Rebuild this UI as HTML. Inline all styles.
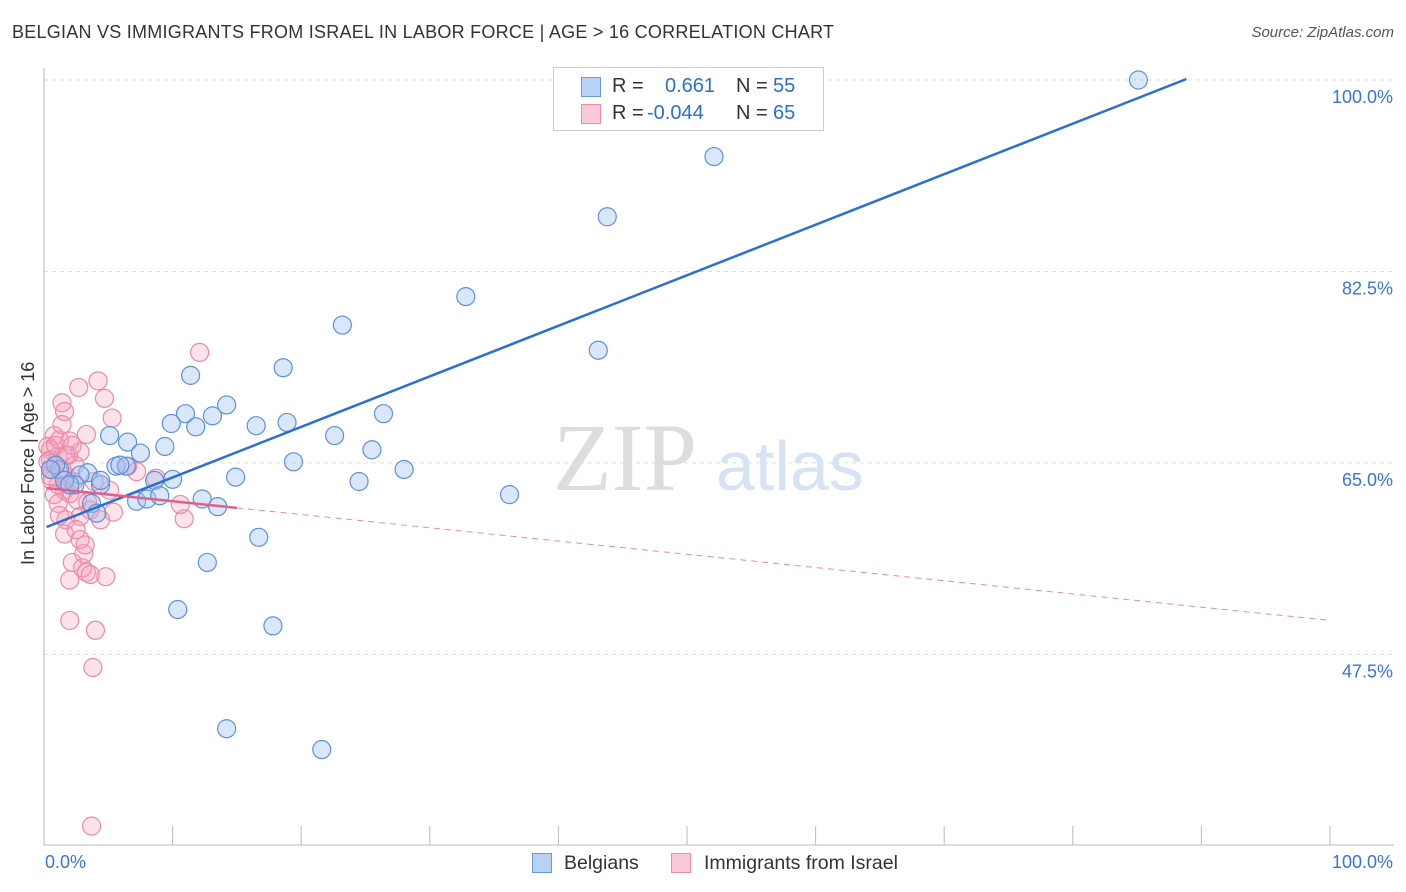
<!DOCTYPE html>
<html><head><meta charset="utf-8"><style>
body{margin:0;background:#fff;font-family:"Liberation Sans",sans-serif}
#wrap{position:relative;width:1406px;height:892px;overflow:hidden}
.t{position:absolute;white-space:nowrap}
</style></head><body>
<div id="wrap">
<div class="t" style="left:12px;top:22px;font-size:18px;color:#333;letter-spacing:0.25px">BELGIAN VS IMMIGRANTS FROM ISRAEL IN LABOR FORCE | AGE &gt; 16 CORRELATION CHART</div>
<div class="t" style="right:12px;top:24px;font-size:15px;color:#555;font-style:italic">Source: ZipAtlas.com</div>
<svg id="svg" width="1406" height="892" style="position:absolute;left:0;top:0"></svg>
</div>
<script>
const blueX=[85.1,52.1,43.8,32.8,23.2,43.1,18.6,11.4,14.2,11.0,13.1,9.9,11.8,16.5,18.9,26.4,22.6,5.1,6.5,9.4,7.5,25.5,19.4,28.0,14.9,3.4,5.6,6.4,10.0,8.6,24.5,4.4,36.2,3.7,7.2,8.0,9.0,12.3,13.5,4.1,16.7,12.7,10.4,17.8,14.2,21.6,2.8,1.2,0.9,2.4,1.6,0.5,4.4,5.9,2.0];
const blueY=[100,93.0,87.5,80.2,77.6,75.3,73.7,73.0,70.3,69.5,69.3,68.6,68.3,68.4,68.7,69.5,67.5,67.5,66.9,66.5,65.9,66.2,65.1,64.4,63.7,64.1,64.7,64.7,63.5,63.4,63.3,63.0,62.1,61.3,61.5,61.7,62.0,61.7,61.0,60.4,58.2,55.9,51.6,50.1,40.7,38.8,63.9,64.4,64.8,63.0,63.4,64.4,63.4,64.8,63.0];
const pinkX=[12.1,4.2,2.7,4.7,1.4,1.6,5.3,3.3,0.8,2.0,0.3,2.8,1.1,0.5,0.9,1.4,1.7,2.3,0.6,3.9,1.6,2.0,1.1,3.4,5.4,2.8,1.7,10.9,10.6,7.2,6.5,8.7,1.6,2.8,3.1,2.2,3.0,3.3,3.6,2.0,4.8,2.0,4.0,3.8,3.7,0.5,0.9,1.2,0.3,0.6,1.1,2.4,1.9,1.4,3.6,4.4,2.5,5.1,1.7,0.8,2.6,1.2,3.2,2.2,0.5];
const pinkY=[75.1,72.5,71.9,70.9,70.5,69.7,69.1,67.6,67.5,67.0,66.5,66.0,65.6,65.3,64.8,64.4,63.8,63.3,63.4,63.3,62.5,62.2,61.3,61.4,60.5,60.1,59.8,59.9,61.2,64.2,64.7,63.6,58.5,58.0,56.7,55.9,55.4,55.0,54.8,54.3,54.6,50.6,49.7,46.3,31.8,66.2,66.6,67.1,65.1,64.4,63.0,64.8,65.7,68.5,60.7,59.8,58.9,62.5,65.7,62.1,61.6,60.2,57.5,66.6,63.8];
const blueTrend=[59.05,0.462];
const pinkTrend=[62.7,-0.121];
const yTicks=[100,82.5,65,47.5];
const yTickLabels=["100.0%","82.5%","65.0%","47.5%"];
const xs=v=>44+v*12.86, ys=v=>80+(100-v)*10.94;
const svg=document.getElementById('svg');
const NS='http://www.w3.org/2000/svg';
function mk(t,a){const e=document.createElementNS(NS,t);for(const k in a)e.setAttribute(k,a[k]);svg.appendChild(e);return e;}
yTicks.forEach((v,i)=>{
 const g=mk('line',{x1:44,x2:1394,y1:ys(v),y2:ys(v),stroke:'#ddd','stroke-dasharray':'4,4'});
 
 
 const t=mk('text',{x:1393,y:ys(v)+23,'text-anchor':'end','font-size':18,fill:'#3a74d8','font-family':'Liberation Sans, sans-serif'});
 t.textContent=yTickLabels[i];
 
 
});
let ax=mk('line',{x1:44,x2:44,y1:68,y2:845,stroke:'#bbb'});


ax=mk('line',{x1:44,x2:1394,y1:845,y2:845,stroke:'#bbb'});


for(let i=0;i<=10;i++){const tk=mk('line',{x1:xs(i*10),x2:xs(i*10),y1:826,y2:845,stroke:'#bbb'});
 
 }
let w=mk('text',{x:553,y:490,'font-size':96,fill:'#ddd','font-family':'Liberation Serif, serif'});w.textContent='ZIP';


w=mk('text',{x:716,y:490,'font-size':70,fill:'#d6e3f5','font-family':'Liberation Sans, sans-serif'});w.textContent='atlas';


pinkX.forEach((x,i)=>{const c=mk('circle',{cx:xs(x),cy:ys(pinkY[i]),r:9,fill:'rgba(244,160,185,0.3)',stroke:'#ec8aa8','stroke-width':1.2});
 
 });
blueX.forEach((x,i)=>{const c=mk('circle',{cx:xs(x),cy:ys(blueY[i]),r:9,fill:'rgba(160,195,240,0.4)',stroke:'#5d90dc','stroke-width':1.2});
 
 });
const bx2=(100-blueTrend[0])/blueTrend[1]+0.2;
let l=mk('line',{x1:xs(0.2),y1:ys(blueTrend[0]+0.2*blueTrend[1]),x2:xs(bx2),y2:ys(blueTrend[0]+bx2*blueTrend[1]),stroke:'#2a6fd6','stroke-width':2.5});


l=mk('line',{x1:xs(0.2),y1:ys(pinkTrend[0]),x2:xs(15),y2:ys(pinkTrend[0]+15*pinkTrend[1]),stroke:'#e0608a','stroke-width':2.5});


l=mk('line',{x1:xs(15),y1:ys(pinkTrend[0]+15*pinkTrend[1]),x2:xs(100),y2:ys(pinkTrend[0]+100*pinkTrend[1]),stroke:'#e88aa8','stroke-width':1,'stroke-dasharray':'6,5'});


</script>
<div class="t" style="left:18px;top:565px;transform:rotate(-90deg);transform-origin:0 0;font-size:18px;color:#333">In Labor Force | Age &gt; 16</div>
<div class="t" style="left:45px;top:852px;font-size:18px;color:#3a74d8">0.0%</div>
<div class="t" style="right:13px;top:852px;font-size:18px;color:#3a74d8">100.0%</div>
<div class="t" style="left:553px;top:67px;width:269px;height:62px;border:1px solid #ccc;background:#fff;font-size:20px">
 <div style="position:absolute;left:27px;top:9px;width:18px;height:18px;background:#b8d2f5;border:1px solid #6a9ae0"></div>
 <div class="t" style="left:58px;top:7px;color:#333">R =</div><div class="t" style="left:111px;top:7px;color:#2a6fd6">0.661</div>
 <div class="t" style="left:182px;top:7px;color:#333">N =</div><div class="t" style="left:219px;top:7px;color:#2a6fd6">55</div>
 <div style="position:absolute;left:27px;top:36px;width:18px;height:18px;background:#fbcad8;border:1px solid #ec8aa8"></div>
 <div class="t" style="left:58px;top:34px;color:#333">R =</div><div class="t" style="left:93px;top:34px;color:#2a6fd6">-0.044</div>
 <div class="t" style="left:182px;top:34px;color:#333">N =</div><div class="t" style="left:219px;top:34px;color:#2a6fd6">65</div>
</div>
<div class="t" style="left:532px;top:853px;width:20px;height:20px;background:#b8d2f5;border:1px solid #6a9ae0;box-sizing:border-box"></div>
<div class="t" style="left:564px;top:852px;font-size:19.5px;color:#333">Belgians</div>
<div class="t" style="left:671px;top:853px;width:20px;height:20px;background:#fbcad8;border:1px solid #ec8aa8;box-sizing:border-box"></div>
<div class="t" style="left:704px;top:852px;font-size:19.5px;color:#333">Immigrants from Israel</div>
</body></html>
